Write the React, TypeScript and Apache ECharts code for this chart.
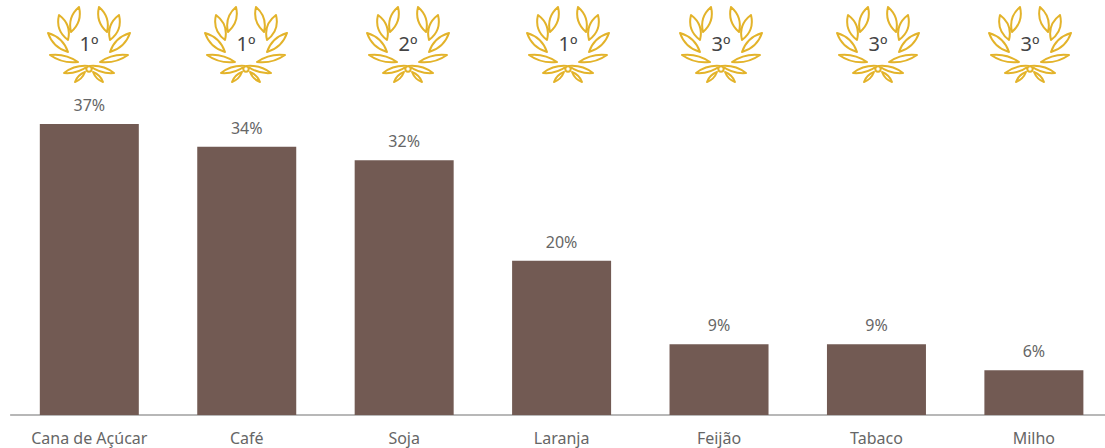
import React, { useEffect, useRef } from "react";
import * as echarts from "echarts";

const categories = ["Cana de Açúcar", "Café", "Soja", "Laranja", "Feijão", "Tabaco", "Milho"];
const shares = [37.0, 34.1, 32.4, 19.6, 9.0, 9.0, 5.7];
const ranks = ["1º", "1º", "2º", "1º", "3º", "3º", "3º"];
const wreathCentres = [89, 246, 408, 568, 721, 878, 1030];

const FONT = "'Noto Sans', sans-serif";
const GOLD = "#e3b32a";

// [baseX, baseY, tipX, tipY, bulge] for the left half of the wreath, offset from the centre line
const leaves = [
  [-18, 32, -10, 7, 5],
  [-21, 40, -30, 15, 5.5],
  [-21, 52, -41, 33, 4.5],
  [-11, 62, -39, 55, 3.5],
  [-1, 66, -25, 73, 3],
  [-4, 72, -14, 82, 2],
];

function leafPath(bx: number, by: number, tx: number, ty: number, b: number, mirror: boolean) {
  const s = mirror ? -1 : 1;
  const o = 45; // keeps every path coordinate positive
  const x1 = s * bx + o, x2 = s * tx + o;
  const mx = (x1 + x2) / 2, my = (by + ty) / 2;
  const dx = x2 - x1, dy = ty - by;
  const len = Math.hypot(dx, dy);
  const nx = (-dy / len) * b * 1.6, ny = (dx / len) * b * 1.6;
  return `M${x1} ${by}Q${mx + nx} ${my + ny} ${x2} ${ty}Q${mx - nx} ${my - ny} ${x1} ${by}Z`;
}

const knot = "M47.7 69A2.7 2.7 0 1 0 42.3 69A2.7 2.7 0 1 0 47.7 69Z";
const wreathPath =
  leaves.map((l) => leafPath(l[0], l[1], l[2], l[3], l[4], false) + leafPath(l[0], l[1], l[2], l[3], l[4], true)).join("") +
  knot;

echarts.graphic.registerShape("wreath", echarts.graphic.extendPath(wreathPath, {}) as any);

export default function App() {
  const ref = useRef<HTMLDivElement>(null);
  useEffect(() => {
    const chart = echarts.init(ref.current!, undefined, { renderer: "svg" });
    chart.setOption({
      animation: false,
      grid: { left: 10.6, width: 1102, top: 124, height: 291, containLabel: false, outerBoundsMode: "none" },
      xAxis: {
        type: "category",
        data: categories,
        axisLine: { lineStyle: { color: "#a0a0a0", width: 1.5 } },
        axisTick: { show: false },
        axisLabel: { color: "#666666", fontFamily: FONT, fontSize: 16, margin: 15, interval: 0 },
      },
      yAxis: { type: "value", min: 0, max: 37, show: false, splitLine: { show: false } },
      series: [
        {
          type: "bar",
          data: shares,
          barWidth: 99,
          itemStyle: { color: "#725a53" },
          label: {
            show: true,
            position: "top",
            distance: 11,
            color: "#666666",
            fontFamily: FONT,
            fontSize: 16,
            formatter: (p: any) => `${Math.round(p.value)}%`,
          },
        },
      ],
      graphic: wreathCentres.flatMap((cx, i) => [
        {
          type: "wreath",
          x: cx - 45,
          y: 0,
          silent: true,
          style: { fill: "none", stroke: GOLD, lineWidth: 2, lineJoin: "round" },
        },
        {
          type: "text",
          x: cx,
          y: 43,
          silent: true,
          style: {
            text: ranks[i],
            fill: "#444444",
            font: `20px ${FONT}`,
            textAlign: "center",
            textVerticalAlign: "middle",
          },
        },
      ]),
    });
    return () => chart.dispose();
  }, []);
  return <div ref={ref} style={{ position: "absolute", left: 0, top: 0, width: 1105, height: 448, background: "#fff" }} />;
}
